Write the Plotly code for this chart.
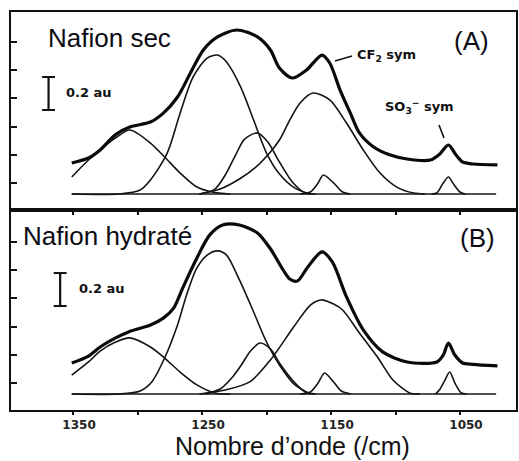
import plotly.graph_objects as go

# ---------------- data (wavenumber cm-1, absorbance au) -------------
# Panel A : Nafion sec
a_env_wn = [1351, 1338, 1329, 1317, 1306, 1290, 1280, 1269, 1259, 1249, 1238, 1223, 1207, 1197, 1190,
            1180, 1169, 1157, 1151, 1143, 1135, 1128, 1117, 1104, 1091, 1073, 1066, 1059, 1053, 1048, 1040, 1021]
a_env_ab = [0.188, 0.218, 0.267, 0.36, 0.406, 0.436, 0.49, 0.588, 0.733, 0.873, 0.952, 0.994, 0.952, 0.873, 0.764,
            0.703, 0.752, 0.842, 0.794, 0.63, 0.49, 0.37, 0.285, 0.236, 0.212, 0.206, 0.24, 0.297, 0.236, 0.194, 0.182, 0.176]

a_c1_wn = [1351, 1338, 1329, 1317, 1306, 1290, 1279, 1267, 1254, 1242, 1228]
a_c1_ab = [0.103, 0.206, 0.267, 0.34, 0.388, 0.309, 0.224, 0.127, 0.042, 0.012, 0]
a_c2_wn = [1351, 1314, 1298, 1290, 1277, 1267, 1257, 1246, 1238, 1231, 1220, 1210, 1200, 1190, 1178, 1166]
a_c2_ab = [0, 0, 0.024, 0.085, 0.248, 0.49, 0.709, 0.824, 0.842, 0.8, 0.648, 0.448, 0.248, 0.121, 0.036, 0]
a_c3_wn = [1252, 1240, 1232, 1224, 1217, 1207, 1199, 1190, 1180, 1170, 1162]
a_c3_ab = [0, 0.03, 0.115, 0.236, 0.333, 0.37, 0.315, 0.194, 0.073, 0.006, 0]
a_c4_wn = [1252, 1236, 1221, 1209, 1197, 1190, 1182, 1174, 1164, 1151, 1138, 1125, 1112, 1099, 1086, 1077]
a_c4_ab = [0, 0.03, 0.091, 0.158, 0.255, 0.327, 0.448, 0.552, 0.612, 0.57, 0.43, 0.267, 0.127, 0.042, 0.006, 0]
a_c5_wn = [1174, 1166, 1160, 1156, 1148, 1141, 1135]
a_c5_ab = [0, 0.012, 0.067, 0.115, 0.067, 0.012, 0]
a_c6_wn = [1072, 1068, 1063, 1059, 1055, 1050, 1046]
a_c6_ab = [0, 0.006, 0.067, 0.103, 0.06, 0.012, 0]

# Panel B : Nafion hydraté
b_env_wn = [1351, 1338, 1329, 1317, 1307, 1290, 1280, 1272, 1265, 1254, 1244, 1234, 1221, 1207, 1197,
            1182, 1176, 1168, 1157, 1149, 1138, 1125, 1110, 1091, 1068, 1063, 1059, 1054, 1048, 1040, 1021]
b_env_ab = [0.188, 0.23, 0.285, 0.34, 0.376, 0.418, 0.46, 0.52, 0.642, 0.824, 0.964, 1.024, 1.024, 0.976, 0.88,
            0.697, 0.685, 0.77, 0.861, 0.8, 0.588, 0.388, 0.255, 0.194, 0.194, 0.236, 0.309, 0.236, 0.188, 0.18, 0.17]

b_c1_wn = [1351, 1338, 1329, 1317, 1306, 1290, 1279, 1267, 1254, 1240, 1228]
b_c1_ab = [0.115, 0.194, 0.26, 0.315, 0.34, 0.285, 0.218, 0.133, 0.055, 0.006, 0]
b_c2_wn = [1351, 1314, 1298, 1289, 1279, 1269, 1262, 1254, 1246, 1238, 1231, 1221, 1210, 1200, 1190, 1178, 1166]
b_c2_ab = [0, 0, 0.018, 0.073, 0.218, 0.418, 0.6, 0.764, 0.842, 0.867, 0.842, 0.691, 0.497, 0.315, 0.176, 0.055, 0]
b_c3_wn = [1248, 1236, 1227, 1219, 1213, 1205, 1197, 1190, 1180, 1170, 1162]
b_c3_ab = [0, 0.03, 0.097, 0.182, 0.255, 0.309, 0.273, 0.188, 0.085, 0.012, 0]
b_c4_wn = [1252, 1232, 1213, 1197, 1179, 1166, 1158, 1148, 1141, 1128, 1114, 1102, 1089, 1081]
b_c4_ab = [0, 0.024, 0.073, 0.206, 0.406, 0.539, 0.57, 0.545, 0.509, 0.37, 0.224, 0.085, 0.006, 0]
b_c5_wn = [1174, 1166, 1160, 1155, 1148, 1142, 1135]
b_c5_ab = [0, 0.012, 0.067, 0.127, 0.073, 0.018, 0]
b_c6_wn = [1069, 1066, 1062, 1058, 1054, 1049, 1045]
b_c6_ab = [0, 0.024, 0.079, 0.133, 0.067, 0.006, 0]

baseline_wn = [1351, 1022]
baseline_ab = [0, 0]

x_tick_vals = [1350, 1250, 1150, 1050]
x_tick_text = ["1350", "1250", "1150", "1050"]
x_minor_step = 50
y_tick_vals = [0.067, 0.238, 0.409, 0.58, 0.751, 0.922]
scale_bar_au = 0.2

# ---------------- figure ----------------
W, H = 519, 461
def px(x):
    return x / W
def py(y):
    return 1 - y / H

fig = go.Figure()
ENV = dict(color="#0a0a0a", width=3.2, shape="spline", smoothing=0.8)
CMP = dict(color="#141414", width=1.6, shape="spline", smoothing=0.8)

panels = [
    ("x", "y", [(a_c1_wn, a_c1_ab), (a_c2_wn, a_c2_ab), (a_c3_wn, a_c3_ab), (a_c4_wn, a_c4_ab),
                (a_c5_wn, a_c5_ab), (a_c6_wn, a_c6_ab)], (a_env_wn, a_env_ab), "Nafion sec"),
    ("x2", "y2", [(b_c1_wn, b_c1_ab), (b_c2_wn, b_c2_ab), (b_c3_wn, b_c3_ab), (b_c4_wn, b_c4_ab),
                  (b_c5_wn, b_c5_ab), (b_c6_wn, b_c6_ab)], (b_env_wn, b_env_ab), "Nafion hydraté"),
]
for xa, ya, comps, env, name in panels:
    fig.add_trace(go.Scatter(x=baseline_wn, y=baseline_ab, mode="lines", xaxis=xa, yaxis=ya,
                             line=dict(color="#141414", width=1.6), showlegend=False, hoverinfo="skip"))
    for i, (wn, ab) in enumerate(comps):
        fig.add_trace(go.Scatter(x=wn, y=ab, mode="lines", xaxis=xa, yaxis=ya, line=CMP,
                                 name=f"{name} composante {i+1}", showlegend=False))
    fig.add_trace(go.Scatter(x=env[0], y=env[1], mode="lines", xaxis=xa, yaxis=ya, line=ENV,
                             name=f"{name} spectre", showlegend=False))

xdom = [px(11), px(516)]
xrange = [1398.1, 1006.6]
common_x = dict(domain=xdom, range=xrange, showgrid=False, zeroline=False, showline=True,
                linecolor="#111", linewidth=2, mirror=True, ticks="outside", ticklen=3,
                tickcolor="#111", tickwidth=1.5, tickvals=x_tick_vals,
                minor=dict(tick0=x_tick_vals[0], dtick=x_minor_step, ticks="outside", ticklen=3,
                           tickcolor="#111", tickwidth=1.5))
common_y = dict(showgrid=False, zeroline=False, showline=True, linecolor="#111", linewidth=2,
                mirror=True, ticks="inside", ticklen=6, tickcolor="#111", tickwidth=1.5,
                tickvals=y_tick_vals, showticklabels=False)

fig.update_layout(
    width=W, height=H, margin=dict(l=0, r=0, t=0, b=0),
    paper_bgcolor="white", plot_bgcolor="white",
    xaxis=dict(anchor="y", showticklabels=False, **common_x),
    yaxis=dict(anchor="x", domain=[py(210), py(12)], range=[-0.097, 1.103], **common_y),
    xaxis2=dict(anchor="y2", ticktext=x_tick_text, showticklabels=True, ticklabelshift=-6,
                tickfont=dict(family="DejaVu Sans", size=12, color="#222", weight="bold"),
                automargin=False, **common_x),
    yaxis2=dict(anchor="x2", domain=[py(410), py(210)], range=[-0.097, 1.115], **common_y),
)

# scale bars (0.2 au) drawn in data units
shapes = []
for xa, ya, wn0, y0 in [("x", "y", 1369, 0.509), ("x2", "y2", 1360, 0.533)]:
    shapes.append(dict(type="line", xref=xa, yref=ya, x0=wn0, x1=wn0, y0=y0, y1=y0 + scale_bar_au,
                       line=dict(color="#111", width=2.2)))
    for yy in (y0, y0 + scale_bar_au):
        shapes.append(dict(type="line", xref=xa, yref=ya, x0=wn0 + 5, x1=wn0 - 5, y0=yy, y1=yy,
                           line=dict(color="#111", width=2)))
# leader lines
shapes.append(dict(type="line", xref="paper", yref="paper", x0=px(335), y0=py(61), x1=px(352), y1=py(56),
                   line=dict(color="#111", width=1.6)))
shapes.append(dict(type="line", xref="paper", yref="paper", x0=px(439), y0=py(125), x1=px(444), y1=py(138),
                   line=dict(color="#111", width=1.6)))
fig.update_layout(shapes=shapes)

big = dict(family="Liberation Sans", size=26, color="#0b0b14")
small = dict(family="DejaVu Sans", size=13, color="#111", weight="bold")
ann = [
    dict(text="Nafion sec", x=px(46), y=py(38), xanchor="left", yanchor="middle", font=big),
    dict(text="(A)", x=px(471), y=py(41), xanchor="center", yanchor="middle", font=big),
    dict(text="Nafion hydraté", x=px(21), y=py(236), xanchor="left", yanchor="middle", font=big),
    dict(text="(B)", x=px(477), y=py(238), xanchor="center", yanchor="middle", font=big),
    dict(text="0.2 au", x=px(64), y=py(93), xanchor="left", yanchor="middle", font=small),
    dict(text="0.2 au", x=px(77), y=py(288), xanchor="left", yanchor="middle", font=small),
    dict(text="CF<sub>2</sub> sym", x=px(355), y=py(56), xanchor="left", yanchor="middle", font=small),
    dict(text="SO<sub>3</sub><sup>−</sup> sym", x=px(383), y=py(107), xanchor="left", yanchor="middle", font=small),
    dict(text="Nombre d’onde (/cm)", x=px(292), y=py(431), xanchor="center", yanchor="top", borderpad=0,
         font=dict(family="Liberation Sans", size=25, color="#111")),
]
for a in ann:
    a.update(xref="paper", yref="paper", showarrow=False)
fig.update_layout(annotations=ann)

fig.write_html("out.html", config={"displayModeBar": False},
               post_script="document.body.style.margin='0';")
